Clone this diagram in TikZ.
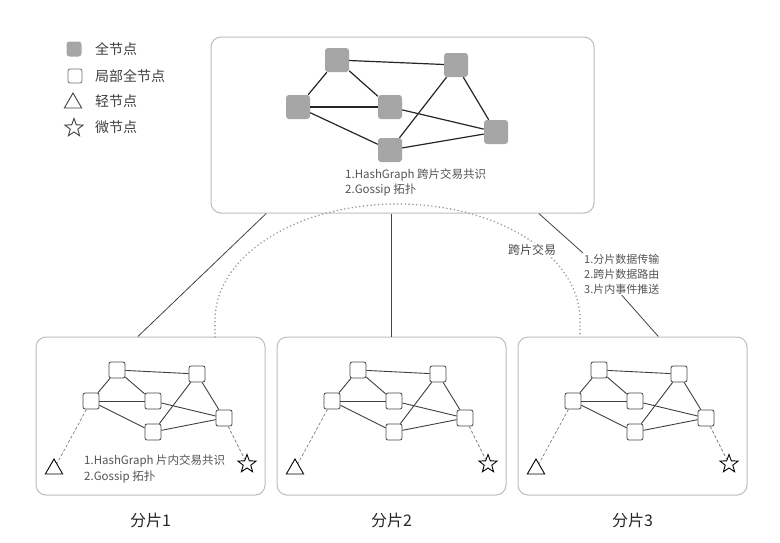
\documentclass[tikz,border=0pt]{standalone}
\usepackage{fontspec}
\setmainfont{Noto Sans CJK SC}
\usetikzlibrary{shapes.geometric}

\definecolor{fullgray}{HTML}{A6A6A6}
\definecolor{panelgray}{HTML}{BDBDBD}
\definecolor{textgray}{HTML}{555555}
\definecolor{linkgray}{HTML}{444444}
\definecolor{dotgray}{HTML}{9E9E9E}

\newcommand{\legendfont}{\fontsize{14}{16}\selectfont}
\newcommand{\notefont}{\fontsize{11.5}{15.5}\selectfont}
\newcommand{\routefont}{\fontsize{11}{14.8}\selectfont}

\tikzset{
	fullnode/.style={rectangle,rounded corners=3pt,fill=fullgray,minimum size=24pt,inner sep=0pt},
	partnode/.style={draw=black!72,rectangle,rounded corners=2pt,fill=white,minimum size=16pt,inner sep=0pt,line width=0.8pt},
	lightnode/.style={draw,regular polygon,regular polygon sides=3,minimum size=20pt,inner sep=0pt,line width=0.9pt},
	micronode/.style={draw,star,star points=5,star point ratio=2.4,minimum size=19pt,inner sep=0pt,line width=0.9pt},
	panel/.style={draw=panelgray,rounded corners=10pt,fill=white,line width=1pt,inner sep=0pt},
	edge/.style={draw=black!85,line width=1.2pt},
	subedge/.style={draw=black!75,line width=0.9pt},
	link/.style={draw=linkgray,line width=0.8pt},
	hint/.style={draw=black!50,dash pattern=on 3pt off 2pt,line width=0.7pt},
	note/.style={text=textgray,align=left,inner sep=1pt,font=\notefont},
	legendtext/.style={note,anchor=west,text=black!75,font=\legendfont}
}

\begin{document}
\begin{tikzpicture}[x=1pt,y=-1pt]
		\useasboundingbox[fill=white] (0,0) rectangle (780,542);
		\node[fullnode,minimum size=15pt] (LF) at (74,49) {};
		\node[legendtext] (LFt) at (94,49) {全节点};
		\node[partnode,draw=black!55,minimum size=14pt] (LP) at (75,76) {};
		\node[legendtext] (LPt) at (94,76) {局部全节点};
		\node[lightnode,draw=black!75] (LL) at (73,103) {};
		\node[legendtext] (LLt) at (94,101) {轻节点};
		\node[micronode,draw=black!75] (LM) at (74,128) {};
		\node[legendtext] (LMt) at (94,127) {微节点};
		\node[panel,minimum width=383pt,minimum height=176pt] (hub) at (402.5,125) {};
		\node[fullnode] (H1) at (337,60) {};
		\node[fullnode] (H2) at (298,107) {};
		\node[fullnode] (H3) at (390,107) {};
		\node[fullnode] (H4) at (456,65) {};
		\node[fullnode] (H5) at (496,132) {};
		\node[fullnode] (H6) at (390,150) {};
		\foreach \u/\v in {H1/H4,H1/H2,H1/H3,H2/H3,H2/H6,H3/H5,H4/H6,H4/H5,H6/H5}
			\draw[edge] (\u) -- (\v);
		\node[note,anchor=west] (hubnote) at (344,182.5) {1.HashGraph 跨片交易共识\\2.Gossip 拓扑};
		\foreach \i/\x in {1/36,2/277,3/518} {
			\node[panel,minimum width=229pt,minimum height=158pt] (s\i) at (\x+114.5,416) {};
			\node[partnode] (a\i) at (\x+81,370) {};
			\node[partnode] (b\i) at (\x+55,401) {};
			\node[partnode] (c\i) at (\x+117,401) {};
			\node[partnode] (d\i) at (\x+161,374) {};
			\node[partnode] (e\i) at (\x+188,418) {};
			\node[partnode] (f\i) at (\x+117,432) {};
			\node[lightnode] (t\i) at (\x+18,469) {};
			\node[micronode] (m\i) at (\x+211,464) {};
			\foreach \u/\v in {a/d,a/b,a/c,b/c,b/f,c/e,d/f,d/e,f/e}
				\draw[subedge] (\u\i) -- (\v\i);
			\draw[hint] (b\i) -- (t\i);
			\draw[hint] (e\i) -- (m\i);
			\node[text=black!85,font=\fontsize{16}{18}\selectfont] (cap\i) at (\x+114.5,520) {分片\i};
		}
		\node[note,anchor=west] (s1note) at (83,469) {1.HashGraph 片内交易共识\\2.Gossip 拓扑};
		\draw[dotgray,line width=1.8pt,dash pattern=on 0pt off 3.8pt,line cap=round] (215,337) -- (215,320) arc[start angle=180,end angle=0,x radius=182.5pt,y radius=116pt] -- (580,337);
		\node[note,fill=white,text=black!70,font=\fontsize{12}{14}\selectfont] (cross) at (532,250) {跨片交易};
		\node[note,anchor=north west,font=\routefont] (route) at (583,253) {1.分片数据传输\\2.跨片数据路由\\3.片内事件推送};
		\draw[link] (hub.-147.9) -- (s1.99);
		\draw[link] (s2.north) -- (s2.north |- hub.south);
		\draw[link] (hub.-33.6) -- (route.north west);
		\draw[link] (route.south) -- (s3.72);
	\end{tikzpicture}
\end{document}
